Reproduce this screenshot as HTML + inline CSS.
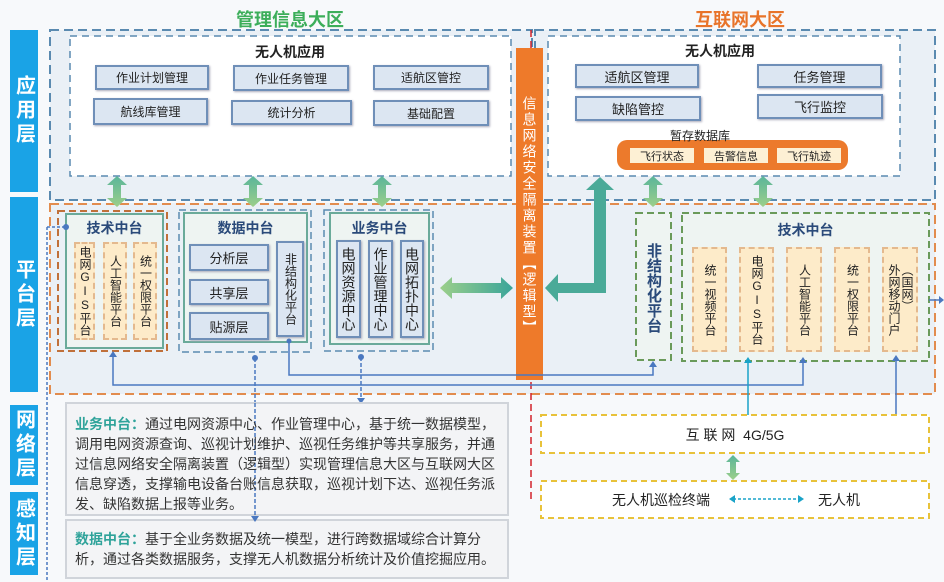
<!DOCTYPE html>
<html><head><meta charset="utf-8">
<style>
*{margin:0;padding:0;box-sizing:border-box}
body{width:944px;height:582px;position:relative;overflow:hidden;background:#f7f9fb;font-family:"Liberation Sans","Noto Sans CJK SC",sans-serif;color:#222}
.a{position:absolute}
.lbl{background:#1aa3e6;color:#fff;font-weight:bold;font-size:20px;display:flex;align-items:center;justify-content:center;writing-mode:vertical-rl;text-orientation:upright;letter-spacing:4px}
.bx{position:absolute;background:#dce6f2;border:2px solid #6f8fb8;font-size:12px;display:flex;align-items:center;justify-content:center;box-shadow:1px 1px 2px #aab}
.vt{position:absolute;writing-mode:vertical-rl;text-orientation:upright;display:flex;align-items:center;justify-content:center;font-size:12px;line-height:13px}
.col{background:#fdebc9;border:2px dashed #e4b98e}
.pill{position:absolute;background:#fdf0d4;font-size:11px;display:flex;align-items:center;justify-content:center;height:15px;top:148px;width:64px}
.t{font-size:14px;line-height:20px;color:#333}
.t b{color:#2fa39a}
</style></head><body>
<svg class="a" style="left:0;top:0" width="944" height="582">
<rect x="50" y="30" width="885" height="170" fill="#eaf0f6"/>
<rect x="50" y="203" width="885" height="191" fill="#eaf0f6"/>
<rect x="50" y="30" width="482" height="170" fill="none" stroke="#5a8ab0" stroke-width="2" stroke-dasharray="9,5"/>
<rect x="535" y="30" width="400" height="170" fill="none" stroke="#5a8ab0" stroke-width="2" stroke-dasharray="9,5"/>
<rect x="70" y="36" width="441" height="140" fill="#fff" stroke="#5a8ab0" stroke-width="1.5" stroke-dasharray="7,5"/>
<rect x="548" y="36" width="352" height="140" fill="#fff" stroke="#5a8ab0" stroke-width="1.5" stroke-dasharray="7,5"/>
<rect x="50" y="204" width="885" height="190" fill="none" stroke="#e28c4e" stroke-width="2" stroke-dasharray="9,5"/>
<line x1="531" y1="30" x2="531" y2="500" stroke="#d2232a" stroke-width="1.5" stroke-dasharray="7,4"/>
<rect x="58" y="211" width="109" height="140" fill="none" stroke="#c0703a" stroke-width="2" stroke-dasharray="7,4"/>
<rect x="66" y="214" width="97" height="134" fill="#eef4f2" stroke="#6aaa9a" stroke-width="2"/>
<rect x="179" y="210" width="132" height="142" fill="none" stroke="#5a8ab0" stroke-width="1.5" stroke-dasharray="7,4"/>
<rect x="184" y="213" width="123" height="129" fill="#eef4f2" stroke="#6aaa9a" stroke-width="2"/>
<rect x="324" y="210" width="109" height="141" fill="none" stroke="#5a8ab0" stroke-width="1.5" stroke-dasharray="7,4"/>
<rect x="330" y="213" width="99" height="131" fill="#eef4f2" stroke="#6aaa9a" stroke-width="2"/>
<rect x="636" y="213" width="35" height="147" fill="#eef4f2" stroke="#6a9a5a" stroke-width="2" stroke-dasharray="7,4"/>
<rect x="682" y="213" width="247" height="148" fill="#eef4f2" stroke="#6a9a5a" stroke-width="2" stroke-dasharray="7,4"/>
<rect x="617" y="140" width="231" height="30" rx="10" fill="#ec7a2c"/>
<rect x="516" y="48" width="27" height="332" fill="#ee7a2a"/>
<defs>
<linearGradient id="g" x1="0" y1="0" x2="1" y2="0"><stop offset="0" stop-color="#9ccf8a"/><stop offset="1" stop-color="#3aa59a"/></linearGradient>
<linearGradient id="gv" x1="0" y1="0" x2="0" y2="1"><stop offset="0" stop-color="#5ab59a"/><stop offset="1" stop-color="#9ccf8a"/></linearGradient>
</defs>
<g fill="url(#gv)">
<path d="M117,176 l-10,9 h6 v13 h-6 l10,9 l10,-9 h-6 v-13 h6z"/>
<path d="M253,176 l-10,9 h6 v13 h-6 l10,9 l10,-9 h-6 v-13 h6z"/>
<path d="M382,176 l-10,9 h6 v13 h-6 l10,9 l10,-9 h-6 v-13 h6z"/>
<path d="M653,176 l-10,9 h6 v13 h-6 l10,9 l10,-9 h-6 v-13 h6z"/>
<path d="M763,176 l-10,9 h6 v13 h-6 l10,9 l10,-9 h-6 v-13 h6z"/>
<path d="M733,455 l-7,7 h4 v11 h-4 l7,7 l7,-7 h-4 v-11 h4z"/>
</g>
<path d="M440,288 l12,-11 v6 h49 v-6 l12,11 l-12,11 v-6 h-49 v6z" fill="url(#g)"/>
<path d="M600,177 l-14,13 h8 v93 h-36 v-9 l-13,14 l13,14 v-9 h48 v-103 h8z" fill="#4aaa98"/>
<g stroke="#4a78c0" stroke-width="1.5" fill="none">
<line x1="47" y1="227" x2="47" y2="582" stroke-dasharray="3,2"/>
<line x1="47" y1="227" x2="66" y2="227" stroke-dasharray="3,2"/>
<polyline points="113,355 113,385 803,385 803,360"/>
<polyline points="289,340 289,375 653,375 653,364"/>
<line x1="255" y1="358" x2="255" y2="520" stroke-dasharray="4,2"/>
<line x1="361" y1="357" x2="361" y2="400" stroke-dasharray="4,2"/>
<line x1="896" y1="358" x2="896" y2="415"/>
<line x1="929" y1="300" x2="942" y2="300"/>
</g>
<line x1="748" y1="360" x2="748" y2="415" stroke="#1aa3c8" stroke-width="1.5"/>
<g fill="#4a78c0">
<circle cx="66" cy="227" r="3"/><circle cx="255" cy="358" r="3"/><circle cx="361" cy="357" r="3"/><circle cx="289" cy="341" r="2.5"/>
<path d="M113,351 l-4,6 h8z"/><path d="M803,357 l-4,6 h8z"/><path d="M653,361 l-4,6 h8z"/><path d="M896,355 l-4,6 h8z"/>
<path d="M361,404 l-4,-6 h8z"/><path d="M944,300 l-5,-4 v8z"/>
</g>
<path d="M748,357 l-4,6 h8z" fill="#1aa3c8"/>
<rect x="541" y="415" width="388" height="38" fill="#fff" stroke="#e8c23a" stroke-width="2" stroke-dasharray="6,4"/>
<rect x="541" y="481" width="388" height="37" fill="#fff" stroke="#e8c23a" stroke-width="2" stroke-dasharray="6,4"/>
<line x1="733" y1="499" x2="800" y2="499" stroke="#1aa3c8" stroke-width="1.5" stroke-dasharray="3,2"/>
<path d="M729,499 l6,-4 v8z M804,499 l-6,-4 v8z" fill="#1aa3c8"/>
<rect x="66" y="403" width="442" height="112" fill="#f3f4f6" stroke="#d0d4da" stroke-width="2"/>
<rect x="66" y="520" width="442" height="58" fill="#f3f4f6" stroke="#d0d4da" stroke-width="2"/>
<line x1="255" y1="403" x2="255" y2="520" stroke="#4a78c0" stroke-width="1.5" stroke-dasharray="4,2"/>
<path d="M255,522 l-4,-6 h8z" fill="#4a78c0"/>
</svg>

<div class="a" style="left:200px;top:6px;width:180px;text-align:center;font-size:18px;font-weight:bold;color:#3cae5a">管理信息大区</div>
<div class="a" style="left:660px;top:6px;width:160px;text-align:center;font-size:18px;font-weight:bold;color:#e8742a">互联网大区</div>

<div class="a lbl" style="left:10px;top:30px;width:28px;height:162px">应用层</div>
<div class="a lbl" style="left:10px;top:197px;width:28px;height:195px">平台层</div>
<div class="a lbl" style="left:10px;top:405px;width:28px;height:80px">网络层</div>
<div class="a lbl" style="left:10px;top:492px;width:28px;height:83px">感知层</div>

<div class="a" style="left:200px;top:42px;width:180px;text-align:center;font-size:14px;font-weight:bold">无人机应用</div>
<div class="bx" style="left:95px;top:65px;width:114px;height:25px">作业计划管理</div>
<div class="bx" style="left:233px;top:65px;width:116px;height:26px">作业任务管理</div>
<div class="bx" style="left:373px;top:65px;width:116px;height:25px">适航区管控</div>
<div class="bx" style="left:93px;top:98px;width:115px;height:27px">航线库管理</div>
<div class="bx" style="left:231px;top:100px;width:121px;height:25px">统计分析</div>
<div class="bx" style="left:373px;top:100px;width:116px;height:26px">基础配置</div>

<div class="a" style="left:640px;top:41px;width:160px;text-align:center;font-size:14px;font-weight:bold">无人机应用</div>
<div class="bx" style="left:575px;top:64px;width:124px;height:24px;font-size:13px">适航区管理</div>
<div class="bx" style="left:757px;top:64px;width:125px;height:24px;font-size:13px">任务管理</div>
<div class="bx" style="left:575px;top:96px;width:126px;height:25px;font-size:13px">缺陷管控</div>
<div class="bx" style="left:757px;top:94px;width:126px;height:25px;font-size:13px">飞行监控</div>
<div class="a" style="left:640px;top:127px;width:120px;text-align:center;font-size:12px">暂存数据库</div>
<div class="pill" style="left:630px">飞行状态</div>
<div class="pill" style="left:704px">告警信息</div>
<div class="pill" style="left:777px">飞行轨迹</div>

<div class="vt" style="left:516px;top:66px;width:27px;height:300px;color:#fff;font-size:14px;line-height:16px;letter-spacing:2px">信息网络安全隔离装置【逻辑型】</div>

<div class="a" style="left:66px;top:218px;width:97px;text-align:center;font-size:14px;font-weight:bold;color:#2a4a7a">技术中台</div>
<div class="vt col" style="left:74px;top:242px;width:21px;height:98px">电网GIS平台</div>
<div class="vt col" style="left:103px;top:242px;width:24px;height:98px">人工智能平台</div>
<div class="vt col" style="left:133px;top:242px;width:24px;height:98px">统一权限平台</div>

<div class="a" style="left:184px;top:218px;width:123px;text-align:center;font-size:14px;font-weight:bold;color:#2a4a7a">数据中台</div>
<div class="bx" style="left:189px;top:244px;width:80px;height:27px;font-size:13px">分析层</div>
<div class="bx" style="left:189px;top:279px;width:80px;height:26px;font-size:13px">共享层</div>
<div class="bx" style="left:189px;top:312px;width:80px;height:28px;font-size:13px">贴源层</div>
<div class="vt bx" style="left:276px;top:241px;width:28px;height:96px;font-size:12px">非结构化平台</div>

<div class="a" style="left:330px;top:218px;width:99px;text-align:center;font-size:14px;font-weight:bold;color:#2a4a7a">业务中台</div>
<div class="vt bx" style="left:336px;top:240px;width:25px;height:98px;font-size:14px;line-height:16px">电网资源中心</div>
<div class="vt bx" style="left:368px;top:240px;width:25px;height:98px;font-size:14px;line-height:16px">作业管理中心</div>
<div class="vt bx" style="left:400px;top:240px;width:24px;height:98px;font-size:14px;line-height:16px">电网拓扑中心</div>

<div class="vt" style="left:636px;top:225px;width:35px;height:125px;font-size:15px;font-weight:bold;color:#2a4a7a;line-height:17px">非结构化平台</div>
<div class="a" style="left:682px;top:220px;width:247px;text-align:center;font-size:14px;font-weight:bold;color:#2a4a7a">技术中台</div>
<div class="vt col" style="left:692px;top:247px;width:35px;height:105px">统一视频平台</div>
<div class="vt col" style="left:739px;top:247px;width:35px;height:105px">电网GIS平台</div>
<div class="vt col" style="left:786px;top:247px;width:36px;height:105px">人工智能平台</div>
<div class="vt col" style="left:834px;top:247px;width:36px;height:105px">统一权限平台</div>
<div class="vt col" style="left:882px;top:247px;width:36px;height:105px">（国网）<br>外网移动门户</div>

<div class="a" style="left:541px;top:425px;width:388px;text-align:center;font-size:14px">互 联 网&nbsp; 4G/5G</div>
<div class="a" style="left:612px;top:490px;font-size:14px">无人机巡检终端</div>
<div class="a" style="left:818px;top:490px;font-size:14px">无人机</div>

<div class="a t" style="left:75px;top:414px;width:428px"><b>业务中台：</b>通过电网资源中心、作业管理中心，基于统一数据模型，调用电网资源查询、巡视计划维护、巡视任务维护等共享服务，并通过信息网络安全隔离装置（逻辑型）实现管理信息大区与互联网大区信息穿透，支撑输电设备台账信息获取，巡视计划下达、巡视任务派发、缺陷数据上报等业务。</div>
<div class="a t" style="left:75px;top:529px;width:428px"><b>数据中台：</b>基于全业务数据及统一模型，进行跨数据域综合计算分析，通过各类数据服务，支撑无人机数据分析统计及价值挖掘应用。</div>
</body></html>
